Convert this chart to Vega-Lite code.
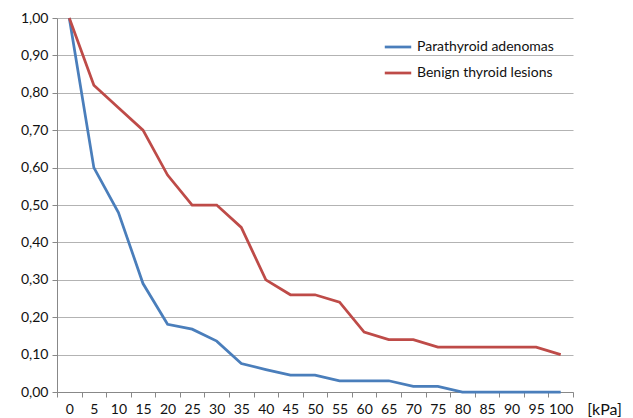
{
  "$schema": "https://vega.github.io/schema/vega-lite/v6.json",
  "width": 516,
  "height": 374,
  "autosize": {"type": "none"},
  "padding": {"left": 57, "top": 18, "right": 60, "bottom": 26},
  "background": "white",
  "config": {
    "view": {"stroke": null},
    "font": "Lato",
    "axis": {"labelFont": "Lato", "labelFontSize": 14, "labelColor": "#111111", "titleFont": "Lato"}
  },
  "data": {
    "values": [
      {"kPa": "0", "series": "Parathyroid adenomas", "value": 1.0},
      {"kPa": "5", "series": "Parathyroid adenomas", "value": 0.6},
      {"kPa": "10", "series": "Parathyroid adenomas", "value": 0.48},
      {"kPa": "15", "series": "Parathyroid adenomas", "value": 0.29},
      {"kPa": "20", "series": "Parathyroid adenomas", "value": 0.181},
      {"kPa": "25", "series": "Parathyroid adenomas", "value": 0.168},
      {"kPa": "30", "series": "Parathyroid adenomas", "value": 0.136},
      {"kPa": "35", "series": "Parathyroid adenomas", "value": 0.076},
      {"kPa": "40", "series": "Parathyroid adenomas", "value": 0.06},
      {"kPa": "45", "series": "Parathyroid adenomas", "value": 0.045},
      {"kPa": "50", "series": "Parathyroid adenomas", "value": 0.045},
      {"kPa": "55", "series": "Parathyroid adenomas", "value": 0.03},
      {"kPa": "60", "series": "Parathyroid adenomas", "value": 0.03},
      {"kPa": "65", "series": "Parathyroid adenomas", "value": 0.03},
      {"kPa": "70", "series": "Parathyroid adenomas", "value": 0.015},
      {"kPa": "75", "series": "Parathyroid adenomas", "value": 0.015},
      {"kPa": "80", "series": "Parathyroid adenomas", "value": 0.0},
      {"kPa": "85", "series": "Parathyroid adenomas", "value": 0.0},
      {"kPa": "90", "series": "Parathyroid adenomas", "value": 0.0},
      {"kPa": "95", "series": "Parathyroid adenomas", "value": 0.0},
      {"kPa": "100", "series": "Parathyroid adenomas", "value": 0.0},
      {"kPa": "0", "series": "Benign thyroid lesions", "value": 1.0},
      {"kPa": "5", "series": "Benign thyroid lesions", "value": 0.82},
      {"kPa": "10", "series": "Benign thyroid lesions", "value": 0.76},
      {"kPa": "15", "series": "Benign thyroid lesions", "value": 0.7},
      {"kPa": "20", "series": "Benign thyroid lesions", "value": 0.58},
      {"kPa": "25", "series": "Benign thyroid lesions", "value": 0.5},
      {"kPa": "30", "series": "Benign thyroid lesions", "value": 0.5},
      {"kPa": "35", "series": "Benign thyroid lesions", "value": 0.44},
      {"kPa": "40", "series": "Benign thyroid lesions", "value": 0.3},
      {"kPa": "45", "series": "Benign thyroid lesions", "value": 0.26},
      {"kPa": "50", "series": "Benign thyroid lesions", "value": 0.26},
      {"kPa": "55", "series": "Benign thyroid lesions", "value": 0.24},
      {"kPa": "60", "series": "Benign thyroid lesions", "value": 0.16},
      {"kPa": "65", "series": "Benign thyroid lesions", "value": 0.14},
      {"kPa": "70", "series": "Benign thyroid lesions", "value": 0.14},
      {"kPa": "75", "series": "Benign thyroid lesions", "value": 0.12},
      {"kPa": "80", "series": "Benign thyroid lesions", "value": 0.12},
      {"kPa": "85", "series": "Benign thyroid lesions", "value": 0.12},
      {"kPa": "90", "series": "Benign thyroid lesions", "value": 0.12},
      {"kPa": "95", "series": "Benign thyroid lesions", "value": 0.12},
      {"kPa": "100", "series": "Benign thyroid lesions", "value": 0.1}
    ]
  },
  "mark": {"type": "line", "strokeWidth": 2.75, "strokeJoin": "miter"},
  "encoding": {
    "x": {
      "field": "kPa",
      "type": "ordinal",
      "sort": null,
      "scale": {"type": "band", "paddingInner": 0, "paddingOuter": 0},
      "axis": {
        "title": "[kPa]",
        "titleFontSize": 16,
        "titleFontWeight": "normal",
        "titleColor": "#111111",
        "titleX": 547,
        "titleY": 22,
        "titleAlign": "center",
        "titleBaseline": "alphabetic",
        "labelAngle": 0,
        "labelPadding": 5,
        "tickBand": "extent",
        "tickSize": 5,
        "tickColor": "#888888",
        "domainColor": "#888888",
        "grid": false
      }
    },
    "y": {
      "field": "value",
      "type": "quantitative",
      "scale": {"domain": [0, 1], "nice": false, "zero": true},
      "axis": {
        "title": null,
        "values": [0, 0.1, 0.2, 0.3, 0.4, 0.5, 0.6, 0.7, 0.8, 0.9, 1.0],
        "labelExpr": "replace(format(datum.value, '.2f'), '.', ',')",
        "labelPadding": 4,
        "tickSize": 5,
        "tickColor": "#888888",
        "domainColor": "#888888",
        "grid": true,
        "gridColor": "#b3b3b3",
        "gridWidth": 1
      }
    },
    "color": {
      "field": "series",
      "type": "nominal",
      "scale": {
        "domain": ["Parathyroid adenomas", "Benign thyroid lesions"],
        "range": ["#4a7ebb", "#be4b48"]
      },
      "legend": {
        "title": null,
        "orient": "none",
        "legendX": 326,
        "legendY": 14,
        "symbolType": "stroke",
        "symbolSize": 700,
        "symbolStrokeWidth": 2.75,
        "labelFontSize": 14,
        "labelFont": "Lato",
        "labelColor": "#111111",
        "rowPadding": 4,
        "labelOffset": 4
      }
    }
  }
}
